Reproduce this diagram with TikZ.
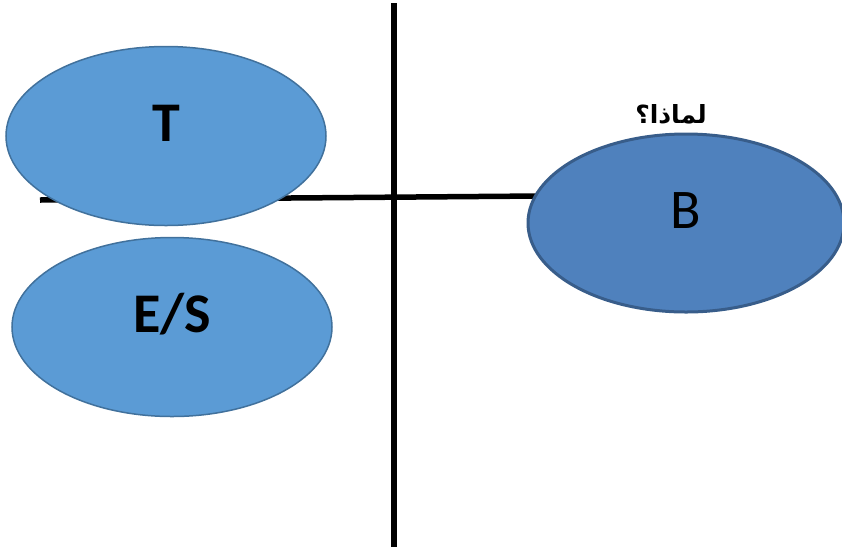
\documentclass[tikz,border=0pt]{standalone}
\usepackage{fontspec}
\setmainfont{Carlito}
\newfontfamily\arabicfont[Script=Arabic]{DejaVu Sans}
\TeXXeTstate=1
\usetikzlibrary{shapes.geometric}
\definecolor{lightfill}{HTML}{5B9BD5}
\definecolor{lightedge}{HTML}{41719C}
\definecolor{darkfill}{HTML}{4F81BD}
\definecolor{darkedge}{HTML}{385D8A}
\tikzset{
  blob/.style={ellipse, fill=lightfill, draw=lightedge, line width=1.5pt,
    minimum width=320pt, minimum height=179pt, inner sep=0pt,
    text height=22pt, text depth=11pt,
    font=\fontsize{56}{60}\selectfont\bfseries},
  blobdark/.style={blob, fill=darkfill, draw=darkedge, line width=3pt,
    minimum width=316pt, minimum height=178pt,
    font=\fontsize{56}{60}\selectfont},
  axis/.style={line width=5.5pt, black}
}
\begin{document}
\begin{tikzpicture}[x=1pt, y=-1pt]
  \useasboundingbox (0,0) rectangle (842,550);
  % axes
  \coordinate (vTop) at (394,3);
  \coordinate (vBot) at (394,547);
  \coordinate (hL) at (40,200);
  \coordinate (hR) at (540,196);
  \draw[axis] (hL) -- (hR);
  \draw[axis] (vTop) -- (vBot);
  % ellipses
  \node[blob] (T) at (166,136) {T};
  \node[blob] (ES) at (172,327) {E/S};
  \node[blobdark] (B) at (686,223) {B};
  % caption above B
  \node[font=\arabicfont\bfseries\fontsize{25}{28}\selectfont, inner sep=0pt] (why) at (671,114) {\beginR لماذا؟\endR};
\end{tikzpicture}
\end{document}
